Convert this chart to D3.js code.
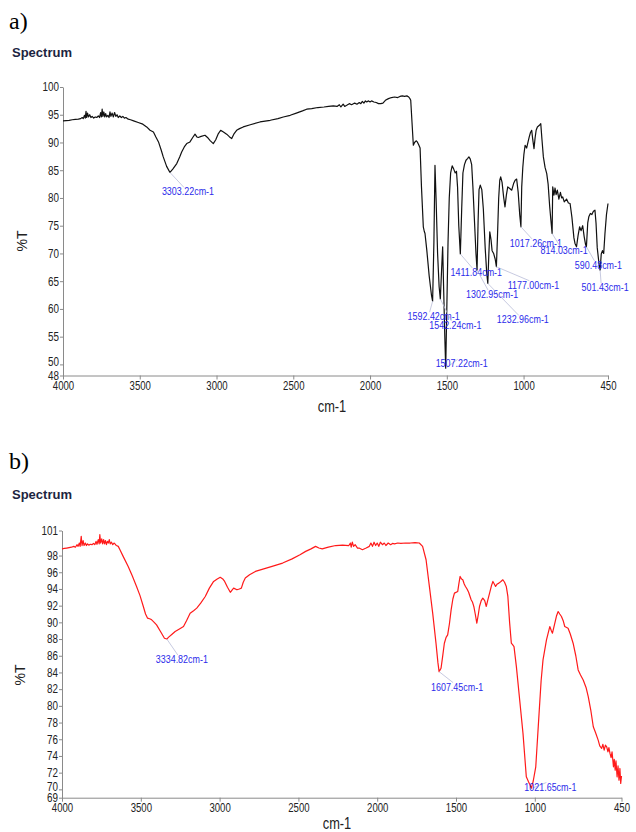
<!DOCTYPE html>
<html>
<head>
<meta charset="utf-8">
<script src="https://cdn.jsdelivr.net/npm/d3@7"></script>
<style>
  html, body { margin: 0; padding: 0; background: #fff; }
  svg { display: block; }
  .axis text { font-family: "Liberation Sans", Arial, sans-serif; font-size: 12px; fill: #222; }
  .axis path, .axis line { stroke: #8a8a8a; stroke-width: 1; }
  .peak-label { font-family: "Liberation Sans", Arial, sans-serif; font-size: 10.5px; fill: #2b2bea; }
</style>
</head>
<body>
<script>
// ---- Spectrum a): [wavenumber (cm-1), transmittance (%T)] ----
const spectrumA = [
  [4000, 93.9], [3980, 93.95], [3960, 94.0], [3940, 94.1], [3920, 94.15], [3900, 94.2], [3885, 94.3],
  [3875, 94.5], [3868, 94.3], [3860, 94.9], [3855, 94.4], [3850, 95.6], [3846, 94.5], [3840, 95.3],
  [3834, 94.6], [3826, 95.0], [3818, 94.5], [3810, 94.7], [3800, 94.4], [3790, 94.6], [3780, 94.5],
  [3770, 94.8], [3762, 94.5], [3755, 95.4], [3750, 94.6], [3745, 96.0], [3740, 94.7], [3734, 95.5],
  [3728, 94.6], [3722, 95.2], [3716, 94.6], [3708, 94.9], [3700, 94.5], [3694, 95.5], [3688, 94.7],
  [3680, 95.3], [3672, 94.6], [3664, 95.4], [3656, 94.7], [3648, 95.0], [3640, 94.5], [3630, 94.8],
  [3620, 94.5], [3610, 94.7], [3600, 94.4], [3590, 94.5], [3575, 94.2], [3560, 94.1], [3540, 93.9],
  [3510, 93.6], [3480, 93.3], [3455, 92.8], [3433, 92.2], [3411, 91.9], [3395, 91.0], [3378, 90.1],
  [3360, 88.6], [3347, 87.4], [3325, 85.7], [3303.22, 84.6], [3285, 85.2], [3259, 86.2], [3240, 87.4],
  [3227, 88.3], [3210, 89.2], [3194, 89.8], [3173, 90.1], [3155, 90.9], [3140, 91.5], [3128, 91.0],
  [3119, 90.9], [3100, 91.1], [3075, 91.3], [3055, 90.8], [3040, 90.3], [3021, 89.8], [3005, 90.5],
  [2990, 91.5], [2973, 92.2], [2955, 91.9], [2934, 91.5], [2915, 91.0], [2901, 90.7], [2885, 91.6],
  [2869, 92.2], [2850, 92.5], [2826, 92.8], [2780, 93.2], [2717, 93.7], [2650, 94.0], [2600, 94.3],
  [2565, 94.6], [2520, 94.9], [2480, 95.3], [2440, 95.7], [2413, 96.0], [2380, 96.1], [2340, 96.3],
  [2300, 96.4], [2270, 96.5], [2239, 96.6], [2215, 96.5], [2200, 96.8], [2190, 96.4], [2175, 96.9],
  [2165, 96.5], [2152, 96.7], [2135, 97.0], [2120, 96.8], [2100, 97.1], [2085, 96.9], [2070, 97.2],
  [2060, 97.0], [2050, 97.4], [2040, 97.1], [2030, 97.5], [2022, 97.3], [2010, 97.5], [2000, 97.3],
  [1990, 97.5], [1975, 97.3], [1960, 97.2], [1945, 97.0], [1930, 97.0], [1916, 97.1], [1900, 97.6],
  [1880, 97.9], [1860, 98.1], [1840, 98.2], [1820, 98.1], [1805, 98.3], [1790, 98.4], [1775, 98.3],
  [1760, 98.4], [1748, 98.2], [1740, 97.9], [1735, 97.6], [1718, 89.5], [1710, 90.0], [1700, 90.3],
  [1692, 90.1], [1683, 89.6], [1674, 89.0], [1665, 82.0], [1653, 74.8], [1647, 74.0], [1642, 73.6],
  [1630, 70.5], [1615, 66.0], [1600, 62.5], [1592.42, 61.4], [1584, 72.0], [1577, 85.9], [1570, 80.0],
  [1560, 70.0], [1550, 64.0], [1542.24, 61.8], [1534, 67.0], [1527, 71.2], [1520, 63.0], [1513, 55.0],
  [1507.22, 49.3], [1500, 60.0], [1492, 72.0], [1484, 80.0], [1475, 84.5], [1465, 85.8], [1455, 85.2],
  [1445, 84.5], [1437, 84.8], [1430, 82.0], [1422, 75.0], [1411.84, 69.9], [1403, 78.0], [1395, 84.5],
  [1385, 86.0], [1375, 86.8], [1365, 87.1], [1356, 87.4], [1347, 87.0], [1338, 86.0], [1330, 82.0],
  [1320, 76.0], [1310, 70.0], [1302.95, 67.0], [1296, 76.0], [1290, 81.5], [1282, 82.3], [1272, 81.5],
  [1262, 78.0], [1250, 71.0], [1240, 66.5], [1232.96, 64.6], [1226, 70.0], [1220, 73.9], [1212, 72.5],
  [1205, 70.5], [1195, 70.0], [1185, 69.0], [1177.00, 67.6], [1170, 73.0], [1162, 80.0], [1155, 83.2],
  [1149, 83.8], [1140, 82.8], [1130, 80.2], [1121, 78.4], [1112, 80.5], [1103, 82.0], [1090, 81.7],
  [1077, 81.4], [1065, 82.6], [1055, 83.2], [1045, 83.4], [1035, 81.0], [1025, 77.0], [1017.26, 74.8],
  [1012, 82.0], [1005, 85.5], [998, 87.8], [990, 89.5], [980, 89.0], [970, 90.2], [963, 91.0],
  [955, 91.8], [947, 92.2], [940, 90.5], [932, 88.9], [925, 90.8], [918, 92.2], [910, 92.8],
  [897, 93.1], [888, 93.4], [880, 90.5], [871, 87.4], [860, 85.5], [849, 84.4], [840, 82.5],
  [830, 78.5], [822, 76.0], [814.03, 73.6], [810, 82.0], [802, 80.5], [795, 81.8], [788, 80.6],
  [780, 81.4], [770, 79.8], [760, 81.0], [752, 80.0], [745, 80.2], [735, 79.3], [720, 79.8],
  [708, 79.1], [697, 79.0], [685, 76.5], [672, 72.8], [665, 71.8], [655, 71.2], [645, 73.2],
  [635, 74.8], [625, 74.1], [615, 75.0], [605, 73.0], [596, 71.6], [590.48, 71.2], [582, 75.5],
  [575, 76.6], [565, 77.2], [555, 77.0], [545, 77.6], [535, 77.8], [528, 75.5], [520, 71.0],
  [510, 68.5], [501.43, 67.0], [494, 69.9], [486, 70.5], [478, 70.0], [470, 73.5], [460, 77.0],
  [450, 79.0]
];

// ---- Spectrum b) ----
const spectrumB = [
  [4000, 98.8], [3985, 98.85], [3970, 98.9], [3955, 98.95], [3940, 99.0], [3925, 99.1], [3915, 99.0],
  [3905, 99.3], [3898, 99.1], [3890, 99.5], [3885, 99.1], [3878, 100.3], [3873, 99.2], [3866, 99.8],
  [3860, 99.2], [3852, 99.5], [3845, 99.2], [3838, 99.4], [3830, 99.25], [3820, 99.35], [3810, 99.3],
  [3800, 99.45], [3792, 99.3], [3784, 99.7], [3778, 99.35], [3770, 99.9], [3764, 99.4], [3760, 100.5],
  [3755, 99.5], [3748, 100.0], [3742, 99.4], [3736, 99.9], [3730, 99.4], [3724, 99.8], [3718, 99.3],
  [3712, 99.7], [3706, 99.5], [3700, 99.9], [3694, 99.4], [3686, 99.6], [3678, 99.3], [3670, 99.5],
  [3664, 99.4], [3655, 99.2], [3643, 99.1], [3630, 98.6], [3612, 97.9], [3580, 96.7], [3555, 95.6],
  [3527, 94.3], [3505, 93.2], [3484, 91.9], [3470, 91.0], [3457, 90.5], [3440, 90.4], [3431, 90.3],
  [3415, 90.0], [3400, 89.7], [3375, 88.9], [3350, 88.1], [3334.82, 88.0], [3325, 88.2], [3300, 88.6],
  [3282, 88.9], [3255, 89.2], [3229, 89.5], [3210, 90.2], [3187, 91.1], [3165, 91.4], [3145, 91.7],
  [3120, 92.3], [3091, 93.1], [3065, 94.1], [3038, 94.9], [3015, 95.2], [2996, 95.4], [2980, 95.2],
  [2968, 94.9], [2950, 94.2], [2932, 93.6], [2920, 93.9], [2911, 94.1], [2890, 93.9], [2875, 94.0],
  [2862, 94.1], [2850, 94.8], [2837, 95.3], [2810, 95.7], [2773, 96.1], [2720, 96.4], [2667, 96.7],
  [2600, 97.1], [2540, 97.6], [2490, 98.1], [2454, 98.5], [2420, 98.8], [2391, 99.1], [2370, 98.9],
  [2349, 98.8], [2310, 99.0], [2263, 99.2], [2220, 99.25], [2180, 99.2], [2170, 99.5], [2165, 99.0],
  [2158, 99.6], [2150, 99.1], [2140, 99.3], [2125, 98.9], [2115, 98.9], [2094, 98.7], [2070, 98.9],
  [2050, 99.1], [2040, 99.5], [2030, 99.1], [2020, 99.6], [2010, 99.2], [2000, 99.5], [1990, 99.1],
  [1980, 99.6], [1967, 99.3], [1955, 99.5], [1945, 99.2], [1930, 99.5], [1915, 99.3], [1903, 99.45],
  [1890, 99.4], [1870, 99.5], [1850, 99.45], [1820, 99.5], [1790, 99.5], [1760, 99.55], [1733, 99.5],
  [1712, 99.1], [1690, 97.5], [1669, 94.3], [1648, 91.1], [1627, 87.5], [1615, 85.2], [1607.45, 84.1],
  [1595, 84.5], [1585, 85.9], [1574, 87.5], [1563, 88.2], [1553, 88.5], [1542, 89.8], [1531, 91.5],
  [1520, 92.8], [1510, 93.5], [1489, 93.7], [1482, 94.6], [1474, 95.5], [1465, 95.2], [1457, 95.1],
  [1448, 94.6], [1440, 94.3], [1430, 94.0], [1420, 93.6], [1404, 92.7], [1395, 92.4], [1387, 91.9],
  [1378, 91.0], [1368, 89.9], [1358, 91.0], [1351, 91.9], [1340, 92.6], [1330, 92.9], [1318, 92.6],
  [1308, 91.9], [1298, 92.7], [1287, 93.5], [1275, 94.4], [1266, 94.9], [1257, 94.6], [1249, 94.3],
  [1238, 94.6], [1228, 94.7], [1215, 94.9], [1203, 95.1], [1192, 94.8], [1181, 94.3], [1171, 93.1],
  [1160, 90.0], [1149, 87.5], [1140, 87.3], [1132, 87.1], [1117, 84.7], [1096, 80.7], [1075, 76.7],
  [1054, 71.5], [1040, 70.9], [1030, 70.5], [1021.65, 70.1], [1010, 71.0], [994, 72.7], [973, 79.1],
  [960, 83.0], [948, 85.5], [926, 87.9], [905, 89.5], [895, 89.0], [888, 88.7], [873, 89.9],
  [862, 90.8], [852, 91.3], [842, 91.0], [831, 90.7], [820, 90.2], [810, 89.5], [789, 89.3],
  [775, 88.6], [757, 87.5], [740, 86.0], [725, 84.3], [710, 83.7], [693, 83.1], [675, 82.2],
  [661, 81.1], [645, 79.5], [629, 77.5], [615, 76.8], [598, 75.9], [588, 75.2], [576, 74.9],
  [568, 75.4], [560, 74.7], [552, 75.3], [544, 75.1], [536, 74.5], [530, 75.0], [523, 74.3],
  [516, 73.8], [510, 74.5], [501, 72.7], [496, 73.6], [490, 72.3], [485, 73.4], [478, 71.5],
  [472, 72.8], [466, 71.1], [460, 72.5], [455, 70.7], [450, 71.6]
];

// Labelled band positions (cm-1)
const peaksA = [3303.22, 1592.42, 1542.24, 1507.22, 1411.84, 1302.95, 1232.96, 1177.00, 1017.26, 814.03, 590.48, 501.43];
const peaksB = [3334.82, 1607.45, 1021.65];

// Axis ticks
const xTicks = [4000, 3500, 3000, 2500, 2000, 1500, 1000, 450];
const yTicksA = [100, 95, 90, 85, 80, 75, 70, 65, 60, 55, 50, 48];
const yTicksB = [101, 98, 96, 94, 92, 90, 88, 86, 84, 82, 80, 78, 76, 74, 72, 70, 69];

// Label placement relative to each band minimum (px)
const labelShiftA = [[18, 23], [1, 19], [15, 30], [16, -1], [16, 22], [15, 28], [35, 40], [37, 22], [15, 20], [12, 21], [12, 22], [5, 21]];
const labelShiftB = [[15, 24], [18, 19], [19, 2]];

const svg = d3.select("body").append("svg")
  .attr("width", 636).attr("height", 832);

// squeeze text horizontally to a narrow face
function condense(sel, k) {
  sel.each(function () {
    const w = this.getComputedTextLength();
    d3.select(this).attr("textLength", w * k).attr("lengthAdjust", "spacingAndGlyphs");
  });
}

// Panel headings
function heading(letter, yLetter, yTitle) {
  svg.append("text").attr("x", 9).attr("y", yLetter)
    .style("font-family", "'Liberation Serif','Times New Roman',serif")
    .style("font-size", "24px").attr("fill", "#000").text(letter);
  svg.append("text").attr("x", 12).attr("y", yTitle)
    .style("font-family", "'Liberation Sans',Arial,sans-serif")
    .style("font-size", "13px").style("font-weight", "bold")
    .attr("fill", "#1c2541").text("Spectrum");
}
heading("a)", 29, 57);
heading("b)", 469, 499);

function drawPanel(cfg) {
  const x = d3.scaleLinear().domain([4000, 450]).range(cfg.xRange);
  const y = d3.scaleLinear().domain(cfg.yDomain).range(cfg.yRange);
  const g = svg.append("g");

  // axes
  const xAxis = g.append("g").attr("class", "axis")
    .attr("transform", `translate(0,${cfg.yRange[0]})`)
    .call(d3.axisBottom(x).tickValues(xTicks).tickFormat(d3.format("d"))
      .tickSize(4).tickSizeOuter(0).tickPadding(2));
  const yAxis = g.append("g").attr("class", "axis")
    .attr("transform", `translate(${cfg.xRange[0]},0)`)
    .call(d3.axisLeft(y).tickValues(cfg.yTicks).tickFormat(d3.format("d"))
      .tickSize(3).tickSizeOuter(0).tickPadding(1));
  condense(xAxis.selectAll("text"), 0.8);
  condense(yAxis.selectAll("text"), 0.82);
  // the second-lowest label sits a little higher, clear of the bottom one
  yAxis.selectAll(".tick text").filter(d => d === cfg.yTicks[cfg.yTicks.length - 2])
    .attr("dy", "0.1em");

  // axis titles
  g.append("text")
    .attr("transform", `translate(${cfg.yTitle[0]},${cfg.yTitle[1]}) rotate(-90)`)
    .attr("text-anchor", "middle")
    .style("font-family", "'Liberation Sans',Arial,sans-serif")
    .style("font-size", "14px").attr("fill", "#222").text("%T");
  const xt = g.append("text")
    .attr("x", cfg.xTitle[0]).attr("y", cfg.xTitle[1])
    .attr("text-anchor", "middle")
    .style("font-family", "'Liberation Sans',Arial,sans-serif")
    .style("font-size", "16px").attr("fill", "#222").text("cm-1");
  condense(xt, 0.8);

  // spectrum trace
  const line = d3.line().x(d => x(d[0])).y(d => y(d[1]));
  g.append("path").datum(cfg.data)
    .attr("d", line)
    .attr("fill", "none")
    .attr("stroke", cfg.color)
    .attr("stroke-width", 1.2)
    .attr("stroke-linejoin", "round");

  // band annotations
  const lookup = new Map(cfg.data.map(d => [d[0], d[1]]));
  cfg.peaks.forEach((wn, i) => {
    const px = x(wn), py = y(lookup.get(wn));
    const [dx, dy] = cfg.shifts[i];
    const lx = px + dx, ly = py + dy;
    g.append("line")
      .attr("x1", px).attr("y1", py)
      .attr("x2", lx - 4).attr("y2", ly - 8)
      .attr("stroke", "#b9bdd8").attr("stroke-width", 0.8);
    const t = g.append("text").attr("class", "peak-label")
      .attr("x", lx).attr("y", ly)
      .attr("text-anchor", "middle")
      .text(wn.toFixed(2) + "cm-1");
    condense(t, 0.85);
  });
}

drawPanel({
  data: spectrumA, color: "#111", peaks: peaksA, shifts: labelShiftA,
  xRange: [63, 608], yDomain: [48, 100], yRange: [375.5, 87], yTicks: yTicksA,
  yTitle: [27, 241], xTitle: [332, 412]
});

drawPanel({
  data: spectrumB, color: "#ff1a1a", peaks: peaksB, shifts: labelShiftB,
  xRange: [62, 621.5], yDomain: [69, 101], yRange: [797.7, 530.5], yTicks: yTicksB,
  yTitle: [25, 675], xTitle: [337, 829]
});
</script>
</body>
</html>
